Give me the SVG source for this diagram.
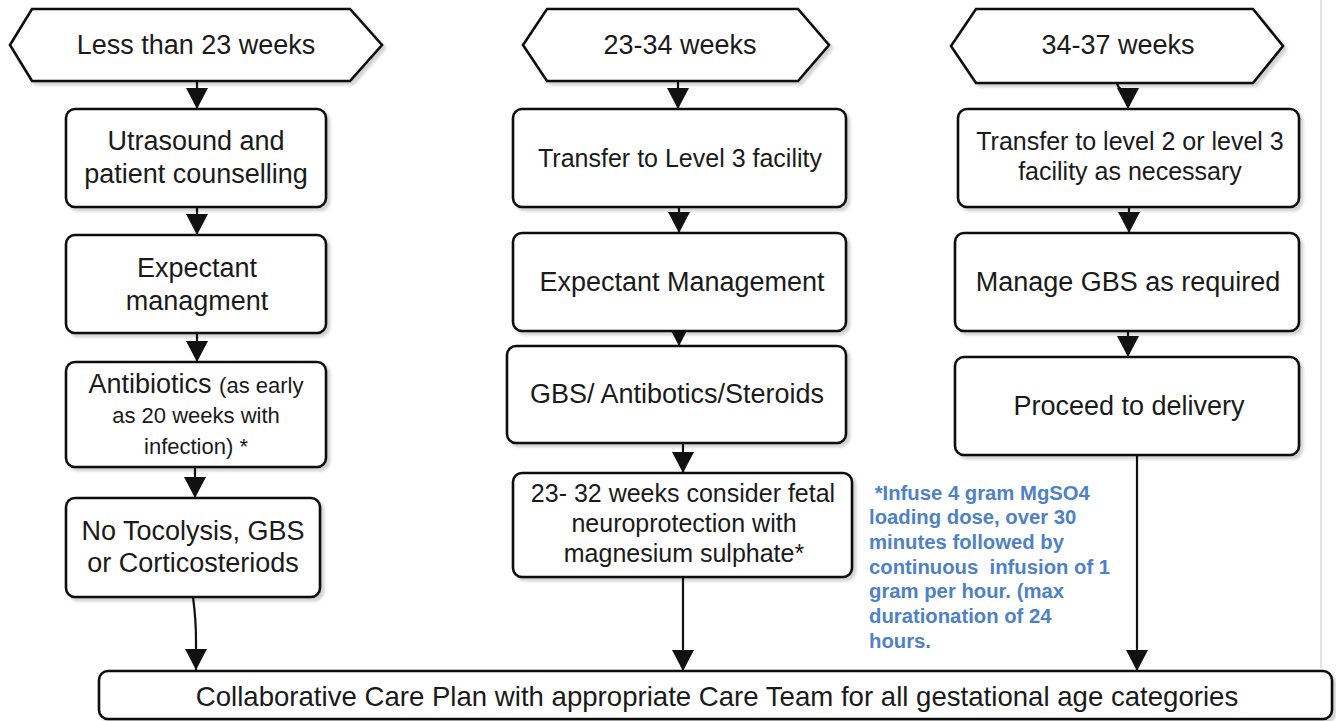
<svg xmlns="http://www.w3.org/2000/svg" width="1336" height="721" viewBox="0 0 1336 721">
<style>
  .shape { fill: #ffffff; stroke: #111111; stroke-width: 2.6; filter: url(#sh); }
  .t { font-family: "Liberation Sans", Arial, sans-serif; fill: #1a1a1a; text-anchor: middle; }
  .f27 { font-size: 27px; }
  .f25 { font-size: 25px; }
  .f22 { font-size: 22px; }
  .fb { font-size: 27.6px; }
  .conn { fill: none; stroke: #111111; stroke-width: 2.2; marker-end: url(#arr); }
  .note { font-family: "Liberation Sans", Arial, sans-serif; font-weight: bold; font-size: 20.3px; fill: #4f81c7; white-space: pre; }
</style>
<defs>
  <filter id="sh" x="-5%" y="-5%" width="115%" height="125%">
    <feDropShadow dx="3" dy="3" stdDeviation="1.5" flood-color="#000000" flood-opacity="0.18"/>
  </filter>
  <marker id="arr" markerUnits="userSpaceOnUse" markerWidth="22" markerHeight="22" viewBox="0 0 22 22" refX="21" refY="11" orient="auto">
    <path d="M0,0 L21,11 L0,22 z" fill="#111111"/>
  </marker>
</defs>
<rect x="0" y="0" width="1336" height="721" fill="#ffffff"/>
<line x1="1321" y1="0" x2="1321" y2="668" stroke="#cfcfcf" stroke-width="1.2"/>

<g id="connectors">
  <path class="conn" d="M197,81 L197,109"/>
  <path class="conn" d="M197,207 L197,235"/>
  <path class="conn" d="M197,333 L197,362"/>
  <path class="conn" d="M195,467 L195,498"/>
  <path class="conn" d="M193,597 C195,612 196,620 196,640 L196,670"/>
  <path class="conn" d="M678,81 L678,109"/>
  <path class="conn" d="M679,207 L679,233"/>
  <path class="conn" d="M679,331 L679,346"/>
  <path class="conn" d="M683,443 L683,473"/>
  <path class="conn" d="M683,577 L683,671"/>
  <path class="conn" d="M1117,83 Q1118,90 1128,92 L1128,109"/>
  <path class="conn" d="M1129,207 L1129,233"/>
  <path class="conn" d="M1128,331 L1128,357"/>
  <path class="conn" d="M1137,455 L1137,671"/>
</g>

<g id="hex-less23">
  <polygon class="shape" points="10,45 32,9 350,9 382,45 350,81 32,81"/>
  <text class="t f27" x="196" y="54">Less than 23 weeks</text>
</g>
<g id="hex-23-34">
  <polygon class="shape" points="523,45 547,9 798,9 829,45 798,81 547,81"/>
  <text class="t f27" x="680" y="54">23-34 weeks</text>
</g>
<g id="hex-34-37">
  <polygon class="shape" points="951,46 976,9 1253,9 1283,46 1253,83 976,83"/>
  <text class="t f27" x="1118" y="54">34-37 weeks</text>
</g>

<g id="n-ultrasound">
  <rect class="shape" x="66" y="109" width="260" height="98" rx="9"/>
  <text class="t f27" x="196" y="150">Utrasound and</text>
  <text class="t f27" x="196" y="183">patient counselling</text>
</g>
<g id="n-expectant1">
  <rect class="shape" x="66" y="235" width="260" height="98" rx="9"/>
  <text class="t f27" x="197" y="277">Expectant</text>
  <text class="t f27" x="197" y="310">managment</text>
</g>
<g id="n-antibiotics">
  <rect class="shape" x="66" y="362" width="260" height="105" rx="9"/>
  <text class="t f27" x="196" y="393">Antibiotics <tspan class="f22">(as early</tspan></text>
  <text class="t f22" x="196" y="423">as 20 weeks with</text>
  <text class="t f22" x="196" y="454">infection) *</text>
</g>
<g id="n-notocolysis">
  <rect class="shape" x="66" y="498" width="254" height="99" rx="9"/>
  <text class="t f27" x="193" y="540">No Tocolysis, GBS</text>
  <text class="t f27" x="193" y="572">or Corticosteriods</text>
</g>

<g id="n-transfer3">
  <rect class="shape" x="513" y="109" width="333" height="98" rx="9"/>
  <text class="t f25" x="680" y="167">Transfer to Level 3 facility</text>
</g>
<g id="n-expectant2">
  <rect class="shape" x="513" y="233" width="333" height="98" rx="9"/>
  <text class="t f27" x="682" y="291">Expectant Management</text>
</g>
<g id="n-gbs">
  <rect class="shape" x="507" y="346" width="339" height="97" rx="9"/>
  <text class="t f27" x="677" y="403">GBS/ Antibotics/Steroids</text>
</g>
<g id="n-neuro">
  <rect class="shape" x="513" y="473" width="339" height="104" rx="9"/>
  <text class="t f25" x="683" y="502">23- 32 weeks consider fetal</text>
  <text class="t f25" x="684" y="532">neuroprotection with</text>
  <text class="t f25" x="684" y="562">magnesium sulphate*</text>
</g>

<g id="n-transfer23">
  <rect class="shape" x="958" y="109" width="341" height="98" rx="9"/>
  <text class="t f25" x="1130" y="150">Transfer to level 2 or level 3</text>
  <text class="t f25" x="1130" y="180">facility as necessary</text>
</g>
<g id="n-managegbs">
  <rect class="shape" x="955" y="233" width="344" height="98" rx="9"/>
  <text class="t f27" x="1128" y="291">Manage GBS as required</text>
</g>
<g id="n-delivery">
  <rect class="shape" x="955" y="357" width="344" height="98" rx="9"/>
  <text class="t f27" x="1129" y="415">Proceed to delivery</text>
</g>

<g id="n-collab">
  <rect class="shape" x="99" y="671" width="1233" height="48" rx="9"/>
  <text class="t fb" x="717" y="706">Collaborative Care Plan with appropriate Care Team for all gestational age categories</text>
</g>

<g id="note-mgso4">
  <text class="note" x="869" y="500"> *Infuse 4 gram MgSO4</text>
  <text class="note" x="869" y="524">loading dose, over 30</text>
  <text class="note" x="869" y="549">minutes followed by</text>
  <text class="note" x="869" y="574">continuous  infusion of 1</text>
  <text class="note" x="869" y="598">gram per hour. (max</text>
  <text class="note" x="869" y="623">durationation of 24</text>
  <text class="note" x="869" y="648">hours.</text>
</g>
</svg>
